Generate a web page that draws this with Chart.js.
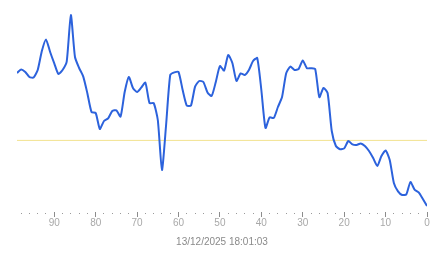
<!DOCTYPE html>
<html>
<head>
<meta charset="utf-8">
<script src="https://cdn.jsdelivr.net/npm/chart.js@4"></script>
<style>
html,body{margin:0;padding:0;background:#fff;}
#wrap{width:443px;height:258px;position:relative;}
</style>
</head>
<body>
<div id="wrap"><canvas id="c"></canvas></div>
<script>
// x positions (age index, oldest on the left)
const ages = [99,98,97,96,95,94,93,92,91,90,89,88,87,86,85,84,83,82,81,80,
  79,78,77,76,75,74,73,72,71,70,69,68,67,66,65,64,63,62,61,60,
  59,58,57,56,55,54,53,52,51,50,49,48,47,46,45,44,43,42,41,40,
  39,38,37,36,35,34,33,32,31,30,29,28,27,26,25,24,23,22,21,20,
  19,18,17,16,15,14,13,12,11,10,9,8,7,6,5,4,3,2,1,0];
// series values
const values = [68.5,70.3,69,66.5,66.2,70,79.5,85.3,79,73.3,68,70,74.2,97.5,76.5,71,66.7,58.3,49,48.5,
  40.5,44.5,45.8,49.5,49.8,46.7,59,66.5,61,59,61.2,63.7,53.4,53.5,45,20,42.5,67.5,68.8,69,
  60,52.2,52.2,61.7,64.5,64,58.8,57,64,72,69.7,77.5,73.5,64.5,68.3,67.5,70,74.5,76,60,
  41,46.3,46,51.5,56.5,68.4,71.7,70,70.5,74.8,70.9,70.9,70.5,56.4,61,58.5,39.5,32,30.4,30.8,
  34.5,32.8,32.5,33.3,32,29.5,26,22,27,29.8,25,13.5,9.3,7.5,7.8,14,10.2,8.8,5.5,2];
const referenceLevel = 34.8;
const referenceSpan = [99, 0];
const majorTickStep = 10;
const minorTickStep = 2;
const axisTitle = '13/12/2025 18:01:03';

const mainData = ages.map((a, i) => ({x: a, y: values[i]}));
const refData = referenceSpan.map(a => ({x: a, y: referenceLevel}));
const FONT = 'Arial, "Liberation Sans", sans-serif';
const isMajor = (ctx) => ctx.tick && ctx.tick.value % majorTickStep === 0;

new Chart(document.getElementById('c'), {
  type: 'line',
  data: {
    datasets: [
      {
        data: mainData,
        borderColor: '#2c62dc',
        borderWidth: 2,
        pointRadius: 0,
        tension: 0.2,
        fill: false,
        order: 1
      },
      {
        data: refData,
        borderColor: '#f2e290',
        borderWidth: 1,
        pointRadius: 0,
        fill: false,
        order: 2
      }
    ]
  },
  options: {
    animation: false,
    responsive: true,
    maintainAspectRatio: false,
    layout: {padding: {left: 17, right: 16, top: 0, bottom: 10}},
    plugins: {legend: {display: false}, tooltip: {enabled: false}},
    scales: {
      x: {
        type: 'linear',
        reverse: true,
        min: 0,
        max: 99,
        border: {display: false},
        grid: {
          drawOnChartArea: false,
          drawTicks: true,
          tickLength: 5,
          tickWidth: 1,
          tickColor: (ctx) => isMajor(ctx) ? '#8c8c8c' : '#9a9a9a',
          tickBorderDash: (ctx) => isMajor(ctx) ? [] : [0, 1, 1, 20],
        },
        ticks: {
          stepSize: minorTickStep,
          includeBounds: false,
          autoSkip: false,
          maxRotation: 0,
          padding: 0,
          color: '#a8a8a8',
          font: {family: FONT, size: 10},
          callback: (v) => (v % majorTickStep === 0) ? String(v) : ''
        },
        title: {
          display: true,
          text: axisTitle,
          color: '#8a8a8a',
          font: {family: FONT, size: 10},
          padding: {top: 7, bottom: 0}
        }
      },
      y: {
        display: false,
        min: -1,
        max: 105
      }
    }
  }
});
</script>
</body>
</html>
